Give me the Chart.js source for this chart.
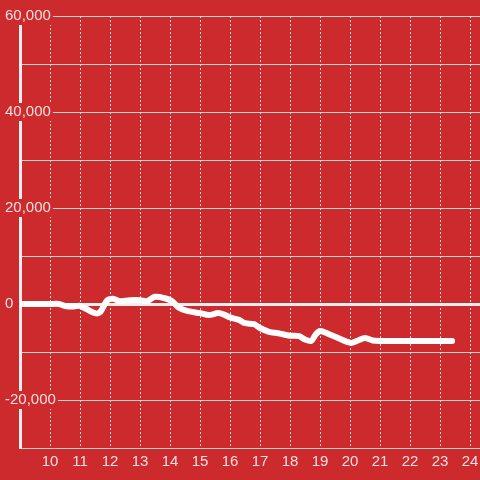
<!DOCTYPE html>
<html>
<head>
<meta charset="utf-8">
<script src="https://cdn.jsdelivr.net/npm/chart.js@4"></script>
<style>
	html, body { margin: 0; padding: 0; background: #cd2a2e; }
	#wrap { width: 480px; height: 480px; }
</style>
</head>
<body>
<div id="wrap"><canvas id="chart" width="480" height="480"></canvas></div>
<script>
const xValues = [
	9, 9.5, 10, 10.3, 10.5, 10.8, 11, 11.2, 11.5, 11.67, 11.9, 12.1, 12.33, 12.67, 13, 13.23,
	13.5, 13.83, 14.07, 14.3, 14.6, 15, 15.3, 15.6, 15.8, 16, 16.3, 16.5, 16.8, 17, 17.3,
	17.6, 18, 18.3, 18.5, 18.7, 18.85, 19, 19.3, 19.6, 19.9, 20.05, 20.27, 20.5, 20.75,
	21, 22, 23, 23.4
];
const yValues = [
	0, 0, 0, 0, -400, -500, -400, -1000, -1900, -1700, 700, 1100, 600, 800, 800, 600,
	1500, 1200, 600, -800, -1500, -1900, -2300, -1900, -2200, -2800, -3300, -4000, -4200, -5000, -5800,
	-6100, -6600, -6700, -7400, -7700, -6400, -5600, -6300, -7100, -7900, -8100, -7600, -7100, -7600,
	-7700, -7700, -7700, -7700
];
const xTicks = [10, 11, 12, 13, 14, 15, 16, 17, 18, 19, 20, 21, 22, 23, 24];

const red = '#cd2a2e';
const labelColor = 'rgba(255, 255, 255, 0.85)';
const points = xValues.map((x, i) => ({x, y: yValues[i]}));

Chart.defaults.font.family = '"Liberation Sans", Arial, sans-serif';
Chart.defaults.font.size = 15;

new Chart(document.getElementById('chart').getContext('2d'), {
	type: 'line',
	data: {
		datasets: [{
			data: points,
			borderColor: '#ffffff',
			borderWidth: 6,
			pointRadius: 0,
			tension: 0.3,
			borderCapStyle: 'round',
			borderJoinStyle: 'round',
			fill: false,
		}]
	},
	options: {
		responsive: false,
		animation: false,
		layout: {padding: {top: 16, right: 0, bottom: 0, left: 0}},
		plugins: {legend: {display: false}, tooltip: {enabled: false}},
		scales: {
			x: {
				type: 'linear',
				min: 9,
				max: 24.33,
				afterBuildTicks: (scale) => {
					scale.ticks = xTicks.map((value) => ({value}));
				},
				afterFit: (scale) => {
					scale.height = 32;
					scale.paddingLeft = 0;
					scale.paddingRight = 0;
				},
				ticks: {stepSize: 1, color: labelColor, padding: 5, maxRotation: 0, autoSkip: false},
				grid: {color: '#dddddd', lineWidth: 1, drawTicks: false},
				border: {display: true, color: '#cccccc', width: 1, dash: [2, 2]},
			},
			y: {
				min: -30000,
				max: 60000,
				afterFit: (scale) => { scale.width = 20; },
				ticks: {
					stepSize: 10000,
					color: labelColor,
					mirror: true,
					padding: -15,
					callback: (v) => v % 20000 === 0 ? v.toLocaleString('en-US') : '',
					showLabelBackdrop: (ctx) => ctx.tick && ctx.tick.value % 20000 === 0,
					backdropColor: red,
					backdropPadding: {top: 0, bottom: 0, left: 2, right: 2},
				},
				grid: {
					color: (ctx) => ctx.tick && ctx.tick.value === 0 ? '#eeeeee' : '#d4d4d4',
					lineWidth: (ctx) => ctx.tick && ctx.tick.value === 0 ? 3 : 1,
					drawTicks: false,
				},
				border: {display: true, color: '#eeeeee', width: 3},
			}
		}
	}
});
</script>
</body>
</html>
